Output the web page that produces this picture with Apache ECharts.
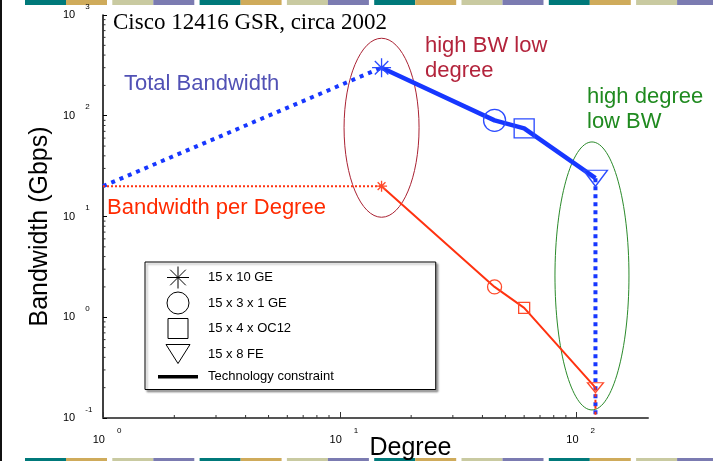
<!DOCTYPE html>
<html><head><meta charset="utf-8">
<script src="https://cdn.jsdelivr.net/npm/echarts@6/dist/echarts.min.js"></script>
<style>html,body{margin:0;padding:0;background:#fff}#c{width:713px;height:461px}</style>
</head><body><div id="c"></div><script>
// ---- data ----
const xTicks = [1, 10, 100];
const yTicks = [0.1, 1, 10, 100, 1000];
const xMinorTicks = [2,3,4,5,6,7,8,9,20,30,40,50,60,70,80,90];
const yMinorTicks = [0.2,0.3,0.4,0.5,0.6,0.7,0.8,0.9,2,3,4,5,6,7,8,9,20,30,40,50,60,70,80,90,200,300,400,500,600,700,800,900];
const totalDotted = [[1,20],[15,300]];
const totalSolid = [[15,300],[45,90],[60,75],[120,24]];
const totalDrop = [[120,24],[120,0.1]];
const perDegDotted = [[1,20],[15,20]];
const perDegSolid = [[15,20],[45,2],[60,1.24],[120,0.2]];
const perDegDrop = [[120,0.2],[120,0.1]];
const legendNames = ['15 x 10 GE','15 x 3 x 1 GE','15 x 4 x OC12','15 x 8 FE','Technology constraint'];
const ellipseCenters = [[15,76],[116,2.57]];

// ---- styles ----
const FONT = 'Liberation Sans';
const BLUE = '#1737ff', RED = '#ff3210';
const starPath = 'path://M10,0L10,20M0,10L20,10M2.9,2.9L17.1,17.1M2.9,17.1L17.1,2.9';
const triPath = 'path://M0,0L24,0L12,16Z';
const sqPath = 'path://M0,0L20,0L20,20L0,20Z';
const markerSymbols = [starPath, 'circle', sqPath, triPath];
const blueSizes = [19, 22, [20,19], [24,16]];
const redSizes = [11, 14, 11, [16,10]];
const legendIcons = [
  'path://M11,0L11,22M0,11L22,11M3.2,3.2L18.8,18.8M3.2,18.8L18.8,3.2',
  'circle',
  'path://M10,-1L10,-1M0,0L20,0L20,20L0,20ZM10,21L10,21',
  'path://M12,-1.5L12,-1.5M0,0L24,0L12,19ZM12,20.5L12,20.5',
  'path://M20,-9L20,-9M0,0L40,0L40,3.5L0,3.5ZM20,12.5L20,12.5'
];

function supLabel(v){ return '{a|10}{b|' + Math.round(Math.log10(v)) + '}'; }

const graphics = [];
// slide decoration stripes
const stripeCols = [['#00797a','#cfab5b'],['#c9caa1','#7b7bb1']];
for (let i = 0; i < 8; i++) {
  const x0 = 25 + i * 87.3, p = stripeCols[i % 2];
  graphics.push({type:'rect', silent:true, shape:{x:x0,y:0,width:41,height:5}, style:{fill:p[0]}});
  graphics.push({type:'rect', silent:true, shape:{x:x0+41,y:0,width:41,height:5}, style:{fill:p[1]}});
  graphics.push({type:'rect', silent:true, shape:{x:x0,y:458,width:41,height:3}, style:{fill:p[0]}});
  graphics.push({type:'rect', silent:true, shape:{x:x0+41,y:458,width:41,height:3}, style:{fill:p[1]}});
}
graphics.push({type:'rect', silent:true, shape:{x:0,y:0,width:2,height:461}, style:{fill:'#111'}});
function txt(t, x, y, col, font, lh){
  graphics.push({type:'text', silent:true, x:x, y:y, z:50, style:{text:t, fill:col, font:font, lineHeight:lh||25, textVerticalAlign:'top'}});
}
txt('Cisco 12416 GSR, circa 2002', 113, 10, '#000', '23px "Liberation Serif"', 25);
txt('high BW low\ndegree', 425, 33, '#b3243c', '22px "Liberation Sans"', 25);
txt('high degree\nlow BW', 587, 84, '#1f8a1f', '22px "Liberation Sans"', 25);
txt('Total Bandwidth', 124, 71, '#5151b5', '22px "Liberation Sans"', 25);
txt('Bandwidth per Degree', 107, 195, '#ff2a00', '22px "Liberation Sans"', 25);

const series = [];
// annotation ellipses
const ellipseStyle = [{rx:37.5, ry:89.5, c:'#aa2233'},{rx:37, ry:134, c:'#2a8a2a'}];
series.push({
  type:'custom', coordinateSystem:'cartesian2d', silent:true, z:1, clip:false,
  data: ellipseCenters,
  renderItem: function(params, api){
    const p = api.coord([api.value(0), api.value(1)]);
    const s = ellipseStyle[params.dataIndex];
    return {type:'ellipse', shape:{cx:p[0], cy:p[1], rx:s.rx, ry:s.ry}, style:{fill:'none', stroke:s.c, lineWidth:1}};
  }
});
// minor ticks
series.push({
  type:'custom', silent:true, z:3, clip:false,
  data: xMinorTicks.map(v => [v, 0.1]),
  renderItem: function(params, api){
    const p = api.coord([api.value(0), api.value(1)]);
    return {type:'line', shape:{x1:p[0], y1:p[1], x2:p[0], y2:p[1]-3}, style:{stroke:'#333', lineWidth:1}};
  }
});
series.push({
  type:'custom', silent:true, z:3, clip:false,
  data: yMinorTicks.map(v => [1, v]),
  renderItem: function(params, api){
    const p = api.coord([api.value(0), api.value(1)]);
    return {type:'line', shape:{x1:p[0], y1:p[1], x2:p[0]+2.5, y2:p[1]}, style:{stroke:'#333', lineWidth:1}};
  }
});
function lineS(data, color, width, type, z){
  return {type:'line', data:data, showSymbol:false, silent:true, z:z||5, clip:false,
    lineStyle:{color:color, width:width, type:type, cap:'butt'}};
}
series.push(lineS(totalDotted, BLUE, 4, [4,5]));
series.push(lineS(totalSolid, BLUE, 4.5, 'solid', 6));
series.push(lineS(totalDrop, BLUE, 4, [4,4]));
series.push(lineS(perDegDotted, RED, 2, [2,2]));
series.push(lineS(perDegSolid, RED, 2, 'solid', 6));
series.push(lineS(perDegDrop, RED, 2, [3,3]));
function markerS(data, color, sizes, lw){
  return {type:'scatter', silent:true, z:8, clip:false,
    data: data.map((d, i) => ({value:d, symbol:markerSymbols[i], symbolSize:sizes[i]})),
    itemStyle:{color:'none', borderColor:color, borderWidth:lw, opacity:1}};
}
series.push(markerS(totalSolid, '#2b4bff', blueSizes, 1.3));
series.push(markerS(perDegSolid, '#ff4a2a', redSizes, 1.3));
// legend entries
legendNames.forEach(n => series.push({type:'line', name:n, data:[], itemStyle:{color:'#000'}}));

const legendData = legendNames.map((n, i) => ({
  name:n, icon:legendIcons[i],
  itemStyle: i === 4 ? {color:'#000', borderWidth:0} : {color:'none', borderColor:'#000', borderWidth:1}
}));

const chart = echarts.init(document.getElementById('c'), null, {renderer:'canvas'});
chart.setOption({
  animation:false,
  backgroundColor:'#fff',
  grid:{left:103, right:65, top:15, bottom:43, containLabel:false, outerBoundsMode:'none'},
  xAxis:{
    type:'log', logBase:10, min:1, max:200,
    axisLine:{show:true, lineStyle:{color:'#555', width:2}},
    axisTick:{show:true, inside:true, length:6, customValues:xTicks, lineStyle:{color:'#333'}},
    axisLabel:{customValues:xTicks, formatter:supLabel, margin:9, padding:[0,0,0,8],
      rich:{a:{fontSize:11, fontFamily:FONT, color:'#000', padding:[7,0,7,0]},
            b:{fontSize:8, fontFamily:FONT, color:'#000', verticalAlign:'top', padding:[0,0,0,12]}}},
    splitLine:{show:false},
    name:'Degree', nameLocation:'middle', nameGap:18, nameMoveOverlap:false,
    nameTextStyle:{fontSize:25, fontFamily:FONT, color:'#000', padding:[0,0,0,70]}
  },
  yAxis:{
    type:'log', logBase:10, min:0.1, max:1000,
    axisLine:{show:true, lineStyle:{color:'#000', width:1.5}},
    axisTick:{show:true, inside:true, length:4, customValues:yTicks, lineStyle:{color:'#000'}},
    axisLabel:{customValues:yTicks, formatter:supLabel, margin:40, align:'left',
      rich:{a:{fontSize:11, fontFamily:FONT, color:'#000', padding:[7,0,7,0]},
            b:{fontSize:8, fontFamily:FONT, color:'#000', verticalAlign:'top', padding:[0,0,0,10]}}},
    splitLine:{show:false},
    name:'Bandwidth (Gbps)', nameLocation:'middle', nameGap:50, nameMoveOverlap:false,
    nameTextStyle:{fontSize:25, fontFamily:FONT, color:'#000', padding:[0,20,0,0]}
  },
  legend:{
    show:true, orient:'vertical', left:145, top:262, selectedMode:false,
    data:legendData, itemWidth:40, itemHeight:22, itemGap:-1.5,
    padding:[2,102,2,13], borderColor:'#000', borderWidth:1, backgroundColor:'#fff',
    shadowColor:'rgba(0,0,0,0.35)', shadowBlur:2, shadowOffsetX:2, shadowOffsetY:2,
    textStyle:{fontSize:13, fontFamily:FONT, color:'#000', padding:[0,0,0,5]}
  },
  graphic:graphics,
  series:series
});
</script></body></html>
